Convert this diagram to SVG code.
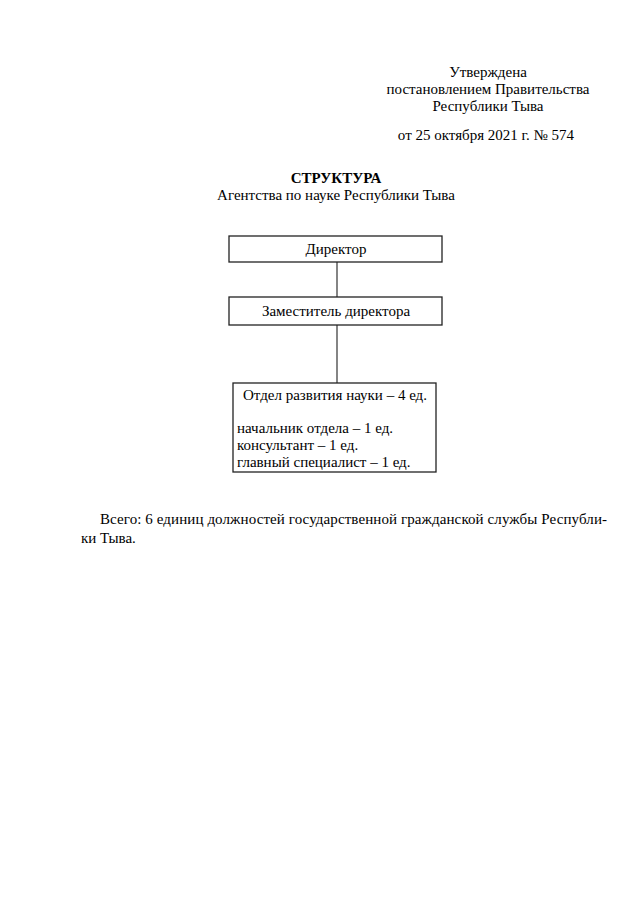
<svg xmlns="http://www.w3.org/2000/svg" width="640" height="905" viewBox="0 0 640 905">
<style>
text{font-family:"Liberation Serif","Times New Roman",serif;font-size:15px;fill:#000}
.c{text-anchor:middle}
.b{font-weight:bold}
.box{fill:#fff;stroke:#222;stroke-width:1.3}
.ln{stroke:#333;stroke-width:1.2;fill:none}
</style>
<rect width="640" height="905" fill="#fff"/>
<g id="header">
<text x="488" y="77" class="c">Утверждена</text>
<text x="488" y="94" class="c">постановлением Правительства</text>
<text x="488" y="111" class="c">Республики Тыва</text>
<text x="486" y="140" class="c">от 25 октября 2021 г. № 574</text>
<text x="336" y="183" class="c b">СТРУКТУРА</text>
<text x="336" y="200" class="c">Агентства по науке Республики Тыва</text>
</g>
<g id="connectors">
<line class="ln" x1="337" y1="262" x2="337" y2="297"/>
<line class="ln" x1="337" y1="325" x2="337" y2="383"/>
</g>
<g id="director">
<rect class="box" x="229" y="236" width="213" height="26"/>
<text x="336" y="254" class="c">Директор</text>
</g>
<g id="deputy">
<rect class="box" x="229" y="297" width="213" height="28"/>
<text x="336" y="316" class="c">Заместитель директора</text>
</g>
<g id="department">
<rect class="box" x="233" y="383" width="203" height="89"/>
<text x="335" y="400" class="c">Отдел развития науки – 4 ед.</text>
<text x="237" y="433">начальник отдела – 1 ед.</text>
<text x="237" y="450">консультант – 1 ед.</text>
<text x="237" y="467">главный специалист – 1 ед.</text>
</g>
<g id="footer">
<text x="100" y="524" textLength="507" lengthAdjust="spacing">Всего: 6 единиц должностей государственной гражданской службы Республи-</text>
<text x="81" y="543">ки Тыва.</text>
</g>
</svg>
